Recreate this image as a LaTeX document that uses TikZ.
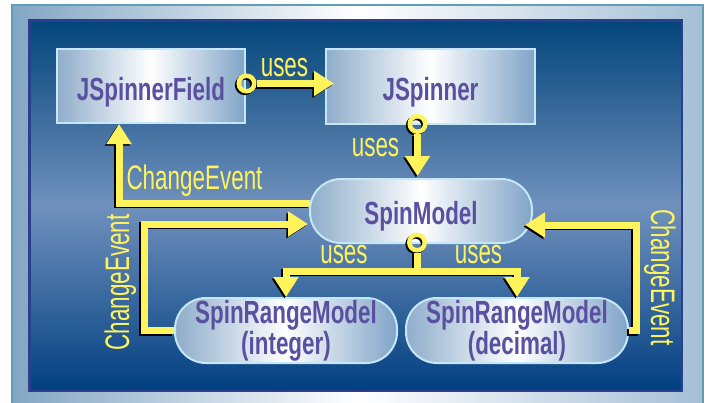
\documentclass[tikz,border=0pt]{standalone}
\usepackage{fontspec}
\usetikzlibrary{arrows.meta,calc}
\newfontfamily\boxfont{Liberation Sans}[FakeStretch=0.70]
\newfontfamily\tagfont{Liberation Sans}[FakeStretch=0.66]
\definecolor{frameedge}{HTML}{5E9FB7}
\definecolor{frameleft}{HTML}{82A6C4}
\definecolor{frameright}{HTML}{A5BFD6}
\definecolor{paneledge}{HTML}{2C3E8E}
\definecolor{paneltop}{HTML}{02457A}
\definecolor{panelmid}{HTML}{7091BD}
\definecolor{panelbot}{HTML}{013F80}
\definecolor{boxedge}{HTML}{C5E7F7}
\definecolor{boxleft}{HTML}{8FADCB}
\definecolor{boxright}{HTML}{80A4C8}
\definecolor{boxtext}{HTML}{5A50A0}
\definecolor{flow}{HTML}{FFF35C}

% all yellow connectors; drawn once as a dark offset shadow, once in yellow
\newcommand\flowlines{%
  \node[ring] (r1) at ($(jsf.east)+(0.5,-2.5)$) {};
  \node[ring] (r2) at ($(js.south)+(-13,-1)$) {};
  \node[ring] (r3) at ($(spin.south)+(-4,-1.5)$) {};
  \coordinate (lc) at (144,224);
  \coordinate (rc) at (636,225);
  \coordinate (fork) at (417,271);
  \draw[-{Triangle[length=20pt,width=24pt]}] (r1.east) -- ($(js.west)+(9,-3)$);
  \draw[-{Triangle[length=20pt,width=24pt]}] (r2.south) -- ($(r2 |- spin.north)+(0,-2)$);
  \draw[-{Triangle[length=20pt,width=24pt]}] ($(spin.west)+(1,-8)$) -| ($(jsf.south)+(-32,0)$);
  \draw[-{Triangle[length=20pt,width=24pt]}] (srmI.west) -| (lc) -- ($(lc -| spin.west)+(-1,0)$);
  \draw[-{Triangle[length=20pt,width=24pt]}] (srmD.east) -| (rc) -- ($(rc -| spin.east)+(-8,0)$);
  \draw (r3.south) -- (fork);
  \draw[{Triangle[length=20pt,width=24pt]}-{Triangle[length=20pt,width=24pt]}]
    (srmI.north) |- (fork) -| (srmD.north);
}

\begin{document}
\begin{tikzpicture}[x=1pt,y=-1pt,
  box/.style={draw=boxedge, line width=2pt, left color=boxleft,
    right color=boxright, middle color=white, text=boxtext,
    font=\boxfont\bfseries\fontsize{32}{26}\selectfont,
    inner sep=0pt, align=center},
  rectbox/.style={box, rectangle, text height=28pt, text depth=0pt},
  pill/.style={box, rectangle, rounded corners=31pt},
  ring/.style={circle, draw, line width=4.5pt, minimum size=15.5pt, inner sep=0pt},
  flowline/.style={line width=7pt},
  tag/.style={text=flow, font=\tagfont\fontsize{34}{34}\selectfont, inner sep=0pt, anchor=base}
]
\useasboundingbox (0,0) rectangle (707,402);
\fill[white] (0,0) rectangle (707,402);

% outer frame and inner panel
\path[left color=frameleft, right color=frameright, middle color=white,
      draw=frameedge, line width=2pt] (12,5) rectangle (703,404);
\path[top color=paneltop, bottom color=panelbot, middle color=panelmid,
      draw=paneledge, line width=2.5pt] (29.5,20.5) rectangle (682,391);

% components
\node[rectbox, minimum width=188pt, minimum height=74pt] (jsf) at (151,86) {JSpinnerField};
\node[rectbox, minimum width=209pt, minimum height=75pt] (js) at (430.5,86.5) {JSpinner};
\node[pill, minimum width=222pt, minimum height=64pt, text height=26pt, text depth=0pt] (spin) at (421,211) {SpinModel};
\node[pill, minimum width=222pt, minimum height=65pt] (srmI) at (286,330.5) {SpinRangeModel\\(integer)};
\node[pill, minimum width=222pt, minimum height=65pt] (srmD) at (517,330.5) {SpinRangeModel\\(decimal)};

% connectors
\begin{scope}[transform canvas={shift={(-1.6pt,-1.6pt)}}, color=black, flowline]
  \flowlines
\end{scope}
\begin{scope}[color=flow, flowline]
  \flowlines
\end{scope}

% connector labels
\node[tag] (u1) at (284.5,76) {uses};
\node[tag] (u2) at (375.5,156.5) {uses};
\node[tag] (c1) at (194.5,189) {ChangeEvent};
\node[tag] (u3) at (344,263) {uses};
\node[tag] (u4) at (478.5,263) {uses};
\node[tag, rotate=90] (c2) at (129,282.5) {ChangeEvent};
\node[tag, rotate=-90] (c3) at (651,277.5) {ChangeEvent};
\end{tikzpicture}
\end{document}
